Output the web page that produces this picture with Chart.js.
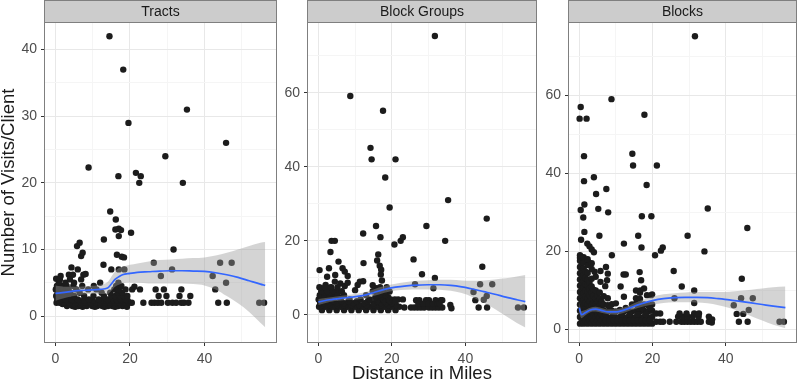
<!DOCTYPE html>
<html>
<head>
<meta charset="utf-8">
<script src="https://cdn.jsdelivr.net/npm/chart.js@4.4.1/dist/chart.umd.min.js"></script>
<style>
  body { margin: 0; background: #fff; }
  #wrap { position: relative; width: 800px; height: 382px; }
  canvas { position: absolute; top: 0; }
</style>
</head>
<body>
<div id="wrap">
  <canvas id="c1" width="280" height="382" style="left:0"></canvas>
  <canvas id="c2" width="260" height="382" style="left:280px"></canvas>
  <canvas id="c3" width="260" height="382" style="left:540px"></canvas>
</div>
<script>
// facet titles
const panelTitles = ['Tracts', 'Block Groups', 'Blocks'];

// ticks (minor ones get a grid line but no label)
const xTicks = [0, 10, 20, 30, 40, 50];
const xMajor = [0, 20, 40];
const tractsTicks = [0, 5, 10, 15, 20, 25, 30, 35, 40];
const tractsMajor = [0, 10, 20, 30, 40];
const bigTicks = [0, 10, 20, 30, 40, 50, 60, 70];
const bigMajor = [0, 20, 40, 60];

// Tracts: [distance, visits]
const tractsPts = [
  [14.5,42],[18.2,37],[35.3,31],[19.6,29],[45.8,26],[29.5,24],[8.9,22.3],[16.9,21],[21.6,21.5],[22.9,21],[22.5,20],[34.2,20],
  [14.7,15.7],[16.2,14.5],[16.1,13],[17.0,13.1],[17.6,12.9],[17.0,12],[20.3,12.5],[13.0,11.5],[5.8,10.5],[6.5,11],[6.9,9],[7.3,9.5],
  [16.5,9.2],[17.8,8.9],[18.4,8.8],[12.9,7.7],[4.3,7.3],[6.0,7.0],[7.5,6.2],[8.1,6.3],[3.6,6.2],[4.7,6.2],[15.0,7.0],[17.0,7.0],[18.5,7.0],[1.4,6.0],[0.2,5.6],
  [31.7,10],[26.4,8],[44.2,8],[47.3,8],[31.3,7],[28.3,6],[42.2,6],[45.8,5],
  [27.7,3],[29.8,3],[33.3,3],[36.2,3],[22.7,4],[26.9,4],[29.1,4],[33.8,4],[42.9,4],[20.6,4],[21.2,4.4],
  [23.6,2],[25.8,2],[26.6,2],[27.5,2],[28.4,2],[30.2,2],[31.4,2],[32.4,2],[33.8,2],[34.5,2],[35.7,2],[43.7,2],[46.0,2],[54.7,2],[56.0,2],
  [3.1,1.5],[4.6,1.5],[6.2,1.5],[8.4,1.5],[9.9,1.5],[11.2,1.5],[12.6,1.5],[14.1,1.5],[15.3,1.5],[16.8,1.5],[18.0,1.5],
  [5.3,1.4],[7.3,1.4],[10.6,1.4],[13.2,1.4],[16.0,1.4],[19.2,1.4],
  [1.9,1.8],[3.6,1.8],[5.1,1.8],[6.7,1.8],[7.6,1.8],[9.1,1.8],[10.4,1.8],[11.7,1.8],[13.0,1.8],[14.4,1.8],[15.8,1.8],[17.4,1.8],[19.0,1.8],
  [0.3,2],[1.2,2],[2.3,2],[3.8,2],[5.4,2],[7.0,2],[8.1,2],[9.5,2],[10.8,2],[12.0,2],[13.3,2],[14.6,2],[15.9,2],[17.2,2],[18.6,2],[19.8,2],[20.5,2],
  [1.0,2.3],[3.3,2.3],[4.9,2.3],[6.5,2.3],[7.8,2.3],[10.0,2.3],[12.4,2.3],[13.7,2.3],[15.1,2.3],[16.8,2.3],[18.2,2.3],[19.4,2.3],
  [0.5,2.5],[1.6,2.5],[2.8,2.5],[4.4,2.5],[6.0,2.5],[9.0,2.5],[11.6,2.5],[14.0,2.5],[15.5,2.5],[16.4,2.5],[17.6,2.5],[18.9,2.5],
  [0.2,3],[1.0,3],[2.0,3],[3.3,3],[5.0,3],[7.7,3],[10.2,3],[13.0,3],[15.0,3],[16.1,3],[17.3,3],[18.3,3],[19.3,3],
  [0.6,3.5],[1.5,3.5],[2.6,3.5],[4.0,3.5],[6.5,3.5],[12.4,3.5],[14.7,3.5],[16.7,3.5],[17.9,3.5],
  [0.1,4],[1.1,4],[2.2,4],[3.5,4],[5.6,4],[8.8,4],[11.0,4],[15.8,4],[17.0,4],[18.8,4],
  [0.4,4.5],[1.8,4.5],[3.0,4.5],[4.8,4.5],[7.2,4.5],[10.3,4.5],[16.3,4.5],[17.7,4.5],
  [0.9,5],[2.7,5],[5.0,5],[12.0,5],[16.9,5],[1.2,5.5],[3.9,5.5],[6.9,5.5]
];

// Block Groups
const groupsPts = [
  [31.7,75.3],[8.7,59.1],[17.6,55.1],[14.2,45.1],[14.5,42],[21.0,42],[18.2,37.1],[35.3,31],[19.4,29],[45.8,26],[29.4,24],[15.7,24],
  [12.2,22],[3.6,20],[4.5,20],[16.9,21],[22.4,20],[23.0,21],[20.7,19],[34.5,20],[3.3,17],[25.9,15],[16.3,16.3],[16.0,14.7],[16.7,13.3],
  [17.1,12.2],[17.0,10.9],[17.3,9.3],[44.6,13],[5.5,14.4],[12.3,14],[28.2,11],[31.7,10],[0.35,12.1],[2.9,12.6],[6.6,12.6],[7.2,11.7],
  [8.0,10.5],[4.6,10.8],[4.5,9.0],[2.4,10.3],[2.0,8.1],[3.3,7.4],[6.0,8.5],[7.2,7.8],[8.0,8.7],[10.0,6.7],[10.7,8.1],[11.3,9],[12.2,9.1],
  [15.8,7.2],[14.8,8.0],[19.4,6.3],[26.3,8.3],[31.3,7.2],[42.2,6.2],[44,8.3],[47.3,8.3],[42.7,4],[45.8,5.1],[45,4.1],[43.6,2],[45.9,2],
  [54.3,2],[55.9,2],[35.9,2.7],[36.2,1.8],
  [23.4,2],[25.2,2],[26.1,2],[27.0,2],[27.9,2],[28.8,2],[30.1,2],[31.0,2],[31.9,2],[32.8,2],[33.7,2],
  [26.6,4],[27.5,4],[29.3,4],[30.1,4],[31.9,4],[33.3,4],[33.7,4],[27.2,3],[28.5,3],[29.9,3],[31.2,3],[32.5,3],[33.0,3],
  [19.7,4.2],[20.8,4.2],[21.7,4.2],[23.0,4.2],
  [1,1.3],[3,1.3],[5,1.3],[7,1.3],[9,1.3],[11,1.3],[13,1.3],[15,1.3],[17,1.3],[19,1.3],[21,1.3],
  [0.2,2.2],[2,2.2],[4,2.2],[6,2.2],[8,2.2],[10,2.2],[12,2.2],[14,2.2],[16,2.2],[18,2.2],[20,2.2],[22,2.2],
  [1.1,2.7],[3.1,2.7],[5.1,2.7],[7.1,2.7],[9.1,2.7],[11.1,2.7],[13.1,2.7],[15.1,2.7],[17.1,2.7],[19.1,2.7],[21.1,2.7],
  [0.5,3.2],[1.5,3.2],[3,3.2],[5,3.2],[7,3.2],[9.5,3.2],[12.5,3.2],[15,3.2],[17,3.2],[18.5,3.2],[20,3.2],
  [2.2,3.7],[4.2,3.7],[6.2,3.7],[8.2,3.7],[10.5,3.7],[13.5,3.7],[16,3.7],[18,3.7],[19.5,3.7],[21,3.7],
  [0.1,4.2],[1.2,4.2],[2.5,4.2],[4,4.2],[6,4.2],[8.5,4.2],[11.5,4.2],[14,4.2],[16.2,4.2],[17.8,4.2],[19.2,4.2],
  [1,4.8],[2.5,4.8],[4,4.8],[5.8,4.8],[15.5,4.8],[17,4.8],[19,4.8],
  [0.4,5.3],[1.8,5.3],[3.2,5.3],[4.8,5.3],[7,5.3],[13,5.3],[16.5,5.3],[18.2,5.3],
  [1.6,6],[3.2,6],[5.2,6],[16,6],[18,6],
  [0.8,6.4],[2.4,6.4],[4,6.4],[6.4,6.4],[14.8,6.4],[17.3,6.4],
  [0.3,7.5],[1.8,7.5],[3.5,7.5],[5.2,7.5],[16.8,7.5],[18.6,7.5]
];

// Blocks
const blocksPts = [
  [31.6,75.1],[8.8,59],[0.4,57],[0.1,54],[2.0,54],[17.8,55],[1.3,44.4],[14.5,45],[14.7,42],[21.2,42],[4.0,39],[1.3,38],[18.4,37],
  [4.6,34.7],[7.4,36],[1.4,32],[0.4,30.6],[5.2,30.9],[7.9,30],[35.1,31],[1.1,28.7],[17.1,29],[19.7,29],[45.9,26],[1.4,25],[5.5,24],
  [16.1,24],[29.6,24],[0.5,23],[2.2,22],[12.2,22],[2.8,21.3],[3.4,20.5],[4.0,19.8],[17.0,21],[22.8,21],[22.3,20.2],[34.2,20],[8.9,19],
  [20.7,19],[25.8,15],[44.4,13],[28.0,11],[31.4,10],[31.4,6.8],[26,8],[42.2,6.2],[44.2,8],[47.4,8],[43,4],[44.8,4],[46.3,5],
  [43.6,2],[46,2],[54.7,2],[55.9,2],[36.2,1.8],
  [22.9,2],[24.7,2],[26.5,2],[27.9,2],[28.7,2],[29.6,2],[30.5,2],[31.4,2],[32.3,2],[33.2,2],[35.4,2],[36.3,2.6],
  [27.0,3.3],[28.3,3.3],[29.6,3.3],[31.0,3.3],[32.6,3.3],[35.4,3.3],[27.4,4.1],[29.3,4.1],[31.4,4.1],[32.7,4.1],
  [5.8,15],[7.3,16],[7.8,14.3],[7.6,12.6],[7.1,11.1],[5.8,12.2],[4.2,14.8],[12.1,14.1],[12.7,14.1],[11.3,11],[12.2,8.4],
  [16.5,14.7],[16.9,12.6],[16.7,10],[18.5,8.8],[19.6,8.8],[0.2,18.4],[2.4,17.3],
  [0.2,1.5],[0.2,3.2],[0.2,4.8],[0.2,6.4],[0.2,8.0],[0.2,9.6],[0.2,11.2],[0.2,12.8],[0.2,14.4],[0.2,16.0],[0.2,17.6],[0.2,19.0],
  [0.7,2.3],[0.7,3.9],[0.7,5.6],[0.7,7.2],[0.7,8.8],[0.7,10.4],[0.7,12.0],[0.7,13.6],[0.7,15.2],[0.7,16.8],
  [1.2,1.5],[1.2,3.0],[1.2,4.5],[1.2,6.0],[1.2,7.6],[1.2,9.2],[1.2,10.8],[1.2,12.4],[1.2,14.0],[1.2,15.6],[1.2,17.2],[1.2,18.5],
  [1.7,2.3],[1.7,3.8],[1.7,5.3],[1.7,6.8],[1.7,8.4],[1.7,10.0],[1.7,11.6],[1.7,13.2],[1.7,14.8],
  [2.3,1.5],[2.3,3.2],[2.3,4.8],[2.3,6.4],[2.3,8.0],[2.3,9.6],[2.3,11.2],[2.3,12.8],[2.3,14.5],[2.3,16.5],[2.3,18.0],
  [2.8,2.3],[2.8,4.0],[2.8,5.6],[2.8,7.2],[2.8,8.8],[2.8,10.4],[2.8,12.0],
  [3.4,1.5],[3.4,3.0],[3.4,4.6],[3.4,6.2],[3.4,7.8],[3.4,9.4],[3.4,11.0],[3.4,13.0],[3.4,15.5],[3.4,17.0],
  [3.9,2.3],[3.9,3.8],[3.9,5.4],[3.9,7.0],[3.9,8.6],[3.9,10.2],
  [4.5,1.5],[4.5,3.2],[4.5,4.8],[4.5,6.4],[4.5,8.0],[4.5,10.0],[4.5,13.5],
  [5.0,2.3],[5.0,4.0],[5.0,5.6],[5.0,7.2],[5.0,8.8],
  [5.6,1.5],[5.6,3.0],[5.6,4.6],[5.6,6.2],[5.6,7.8],[5.6,9.5],
  [6.1,2.3],[6.1,3.9],[6.1,5.5],[6.1,7.1],
  [6.7,1.5],[6.7,3.2],[6.7,4.8],[6.7,6.4],[6.7,8.5],
  [7.8,1.5],[7.8,3.0],[7.8,4.6],[7.8,6.2],[7.8,8.0],
  [8.9,1.5],[8.9,3.2],[8.9,4.8],[8.9,6.5],
  [10.0,1.5],[10.0,3.0],[10.0,4.6],[10.0,6.7],
  [11.1,1.5],[11.1,3.2],[11.1,5.0],
  [12.2,1.5],[12.2,3.0],[12.2,4.6],
  [13.3,1.5],[13.3,3.2],[13.3,5.0],
  [14.4,1.5],[14.4,3.0],[14.4,4.6],[14.4,6.4],
  [15.5,1.5],[15.5,3.2],[15.5,4.8],[15.5,6.6],[15.5,8.0],[15.5,10],
  [16.6,1.5],[16.6,3.0],[16.6,4.6],[16.6,6.2],[16.6,7.8],[16.6,9.4],
  [17.7,1.5],[17.7,3.2],[17.7,4.8],[17.7,6.4],[17.7,10.5],
  [18.8,1.5],[18.8,3.0],[18.8,4.6],[18.8,6.2],
  [19.9,1.5],[19.9,3.2],[19.9,4.8],[19.9,6.4],[19.9,9],
  [7.2,2.3],[8.3,2.3],[9.4,2.3],[10.5,2.3],[11.6,2.3],[12.7,2.3],[13.8,2.3],[14.9,2.3],[16.0,2.3],[17.1,2.3],[18.2,2.3],[19.3,2.3],
  [7.2,3.9],[9.4,3.9],[11.6,3.9],[13.8,3.9],[16.0,3.9],[18.2,3.9],
  [8.3,5.5],[12.7,5.5],[16.0,5.5],[17.1,5.5],[19.3,5.5],
  [21.0,2],[21.0,4.1],[22.1,2],[22.1,4.1]
];

// loess fits: x, fit, upper, lower
const tractsFitX  = [0, 3, 6, 9, 12, 14, 15, 16, 17, 18, 20, 22, 25, 28, 31, 34, 37, 40, 43, 46, 49, 52, 55, 56.3];
const tractsFit   = [3.4, 3.6, 3.8, 3.9, 4.0, 4.2, 4.8, 5.5, 5.9, 6.2, 6.4, 6.55, 6.65, 6.75, 6.8, 6.8, 6.75, 6.7, 6.5, 6.2, 5.8, 5.3, 4.8, 4.6];
const tractsHi    = [4.6, 4.4, 4.4, 4.5, 4.7, 5.1, 5.9, 6.7, 7.2, 7.4, 7.7, 7.9, 8.2, 8.4, 8.5, 8.6, 8.7, 8.8, 9.1, 9.5, 10.0, 10.5, 11.0, 11.1];
const tractsLo    = [2.3, 2.8, 3.1, 3.3, 3.3, 3.3, 3.8, 4.4, 4.7, 4.9, 5.0, 5.0, 4.9, 4.9, 4.9, 4.9, 4.8, 4.6, 4.0, 3.0, 1.9, 0.6, -1.0, -1.7];

const groupsFitX  = [0, 3, 6, 9, 12, 15, 18, 21, 24, 27, 30, 33, 36, 39, 42, 45, 48, 51, 54, 56.3];
const groupsFit   = [3.5, 4.1, 4.5, 4.8, 5.2, 6.0, 6.9, 7.5, 7.85, 8.05, 8.15, 8.15, 8.0, 7.6, 7.0, 6.3, 5.6, 4.8, 4.1, 3.6];
const groupsHi    = [4.3, 4.7, 5.1, 5.5, 6.0, 6.9, 7.8, 8.4, 8.9, 9.2, 9.4, 9.5, 9.5, 9.3, 9.2, 9.3, 9.6, 9.9, 10.4, 10.8];
const groupsLo    = [2.7, 3.5, 3.9, 4.1, 4.4, 5.1, 6.0, 6.6, 6.8, 6.9, 6.9, 6.8, 6.5, 5.9, 4.8, 3.3, 1.6, -0.3, -2.2, -3.4];

const blocksFitX  = [0, 0.6, 1.5, 3, 4.5, 6, 8, 10, 12, 14, 16, 18, 20, 23, 26, 29, 32, 35, 38, 41, 44, 47, 50, 53, 56.3];
const blocksFit   = [5.6, 3.8, 4.2, 5.0, 5.2, 4.9, 4.5, 4.5, 4.9, 5.6, 6.3, 6.9, 7.4, 7.9, 8.15, 8.25, 8.25, 8.15, 7.9, 7.6, 7.2, 6.8, 6.4, 6.0, 5.6];
const blocksHi    = [7.0, 4.7, 4.9, 5.6, 5.8, 5.5, 5.1, 5.2, 5.6, 6.3, 7.1, 7.8, 8.4, 9.0, 9.3, 9.5, 9.6, 9.6, 9.6, 9.7, 9.9, 10.2, 10.5, 10.8, 11.0];
const blocksLo    = [4.2, 2.9, 3.5, 4.4, 4.6, 4.3, 3.9, 3.8, 4.2, 4.9, 5.5, 6.0, 6.4, 6.8, 7.0, 7.0, 6.9, 6.7, 6.2, 5.5, 4.5, 3.4, 2.3, 1.2, 0.3];

const FONT = '"Liberation Sans", Arial, Helvetica, sans-serif';

// grey strip on top + panel border, ggplot style
const stripPlugin = {
  id: 'strip',
  afterDraw(chart, args, opts) {
    const { ctx, chartArea: a } = chart;
    ctx.save();
    ctx.strokeStyle = '#7f7f7f';
    ctx.lineWidth = 1;
    ctx.strokeRect(a.left - 0.5, a.top - 0.5, a.right - a.left + 1, a.bottom - a.top + 1);
    ctx.fillStyle = '#cccccc';
    ctx.fillRect(a.left - 0.5, 0.5, a.right - a.left + 1, a.top - 1);
    ctx.strokeRect(a.left - 0.5, 0.5, a.right - a.left + 1, a.top - 1);
    ctx.fillStyle = '#1a1a1a';
    ctx.font = '14px ' + FONT;
    ctx.textAlign = 'center';
    ctx.textBaseline = 'middle';
    ctx.fillText(opts.text, (a.left + a.right) / 2, a.top / 2 + 0.5);
    ctx.restore();
  }
};

function toXY(xs, ys) {
  return xs.map((x, i) => ({ x: x, y: ys[i] }));
}

function makePanel(id, title, pts, fx, fm, fhi, flo, ymin, ymax, yTicks, yMajor, yWidth, padRight, yTitle, xTitle) {
  const gridColor = majors => c => majors.includes(c.tick.value) ? '#e8e8e8' : '#f5f5f5';
  const tickColor = majors => c => majors.includes(c.tick.value) ? '#333333' : 'rgba(0,0,0,0)';
  new Chart(document.getElementById(id), {
    type: 'scatter',
    data: {
      datasets: [
        { type: 'line', data: toXY(fx, fm), borderColor: '#3366ff', borderWidth: 1.7, pointRadius: 0,
          cubicInterpolationMode: 'monotone', fill: false, order: 0 },
        { type: 'line', data: toXY(fx, fhi), borderWidth: 0, borderColor: 'rgba(0,0,0,0)', pointRadius: 0,
          cubicInterpolationMode: 'monotone', fill: '+1', backgroundColor: 'rgba(153,153,153,0.42)', order: 1 },
        { type: 'line', data: toXY(fx, flo), borderWidth: 0, borderColor: 'rgba(0,0,0,0)', pointRadius: 0,
          cubicInterpolationMode: 'monotone', fill: false, order: 1 },
        { type: 'scatter', data: pts.map(p => ({ x: p[0], y: p[1] })), pointRadius: 3.2,
          backgroundColor: '#1c1c1c', borderWidth: 0, order: 2 }
      ]
    },
    options: {
      responsive: false,
      animation: false,
      layout: { padding: { top: 23, right: padRight, left: 0, bottom: 0 } },
      plugins: {
        legend: { display: false },
        tooltip: { enabled: false },
        strip: { text: title }
      },
      scales: {
        x: {
          type: 'linear', min: -2.8, max: 59.2,
          afterBuildTicks: s => { s.ticks = xTicks.map(v => ({ value: v })); },
          afterFit: s => { s.height = 40; },
          grid: { color: gridColor(xMajor), tickColor: tickColor(xMajor), tickLength: 4, lineWidth: 1 },
          border: { display: false },
          ticks: { padding: 5, color: '#4d4d4d', font: { family: FONT, size: 14 },
            callback: v => xMajor.includes(v) ? String(v) : '' },
          title: { display: !!xTitle, text: xTitle || '', color: '#1a1a1a',
            font: { family: FONT, size: 18.5 }, padding: { top: 0, bottom: -3 } }
        },
        y: {
          type: 'linear', min: ymin, max: ymax,
          afterBuildTicks: s => { s.ticks = yTicks.map(v => ({ value: v })); },
          afterFit: s => { s.width = yWidth; },
          grid: { color: gridColor(yMajor), tickColor: tickColor(yMajor), tickLength: 4, lineWidth: 1 },
          border: { display: false },
          ticks: { padding: 4, color: '#4d4d4d', font: { family: FONT, size: 14 },
            callback: v => yMajor.includes(v) ? String(v) : '' },
          title: { display: !!yTitle, text: yTitle || '', color: '#1a1a1a',
            font: { family: FONT, size: 18.5 }, padding: { top: -2, bottom: 2 } }
        }
      }
    },
    plugins: [stripPlugin]
  });
}

makePanel('c1', panelTitles[0], tractsPts, tractsFitX, tractsFit, tractsHi, tractsLo,
  -3.9, 44.0, tractsTicks, tractsMajor, 45, 4, 'Number of Visits/Client', null);
makePanel('c2', panelTitles[1], groupsPts, groupsFitX, groupsFit, groupsHi, groupsLo,
  -7.3, 78.8, bigTicks, bigMajor, 28, 3, null, 'Distance in Miles');
makePanel('c3', panelTitles[2], blocksPts, blocksFitX, blocksFit, blocksHi, blocksLo,
  -3.2, 78.5, bigTicks, bigMajor, 29, 2, null, null);
</script>
</body>
</html>
